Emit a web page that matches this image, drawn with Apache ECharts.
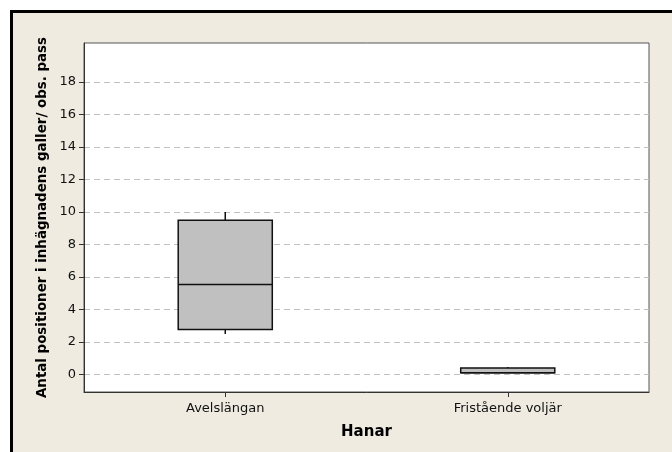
<!DOCTYPE html>
<html>
<head>
<meta charset="utf-8">
<script src="https://cdn.jsdelivr.net/npm/echarts@6/dist/echarts.min.js"></script>
<style>
  body { margin: 0; background: #ffffff; }
  #wrap { position: relative; width: 672px; height: 452px; overflow: hidden; }
  #frame { position: absolute; left: 10px; top: 10px; width: 700px; height: 500px;
           background: #efebe1; border-top: 3px solid #000; border-left: 3px solid #000; }
  #chart { position: absolute; left: 0; top: 0; width: 672px; height: 452px; }
</style>
</head>
<body>
<div id="wrap">
  <div id="frame"></div>
  <div id="chart"></div>
</div>
<script>
// Kategorier och lådvärden: [min, Q1, median, Q3, max]
const categories = ["Avelslängan", "Fristående voljär"];
const boxAvelslangan = [2.5, 2.77, 5.55, 9.5, 10.0];
const boxFristaende = [0.1, 0.12, 0.12, 0.41, 0.47];
const yTickValues = [0, 2, 4, 6, 8, 10, 12, 14, 16, 18];

const boxData = [
    [0].concat(boxAvelslangan),
    [1].concat(boxFristaende)
];

const chart = echarts.init(document.getElementById("chart"));

function renderBox(params, api) {
    const x = api.value(0);
    const lo = api.coord([x, api.value(1)]);
    const q1 = api.coord([x, api.value(2)]);
    const med = api.coord([x, api.value(3)]);
    const q3 = api.coord([x, api.value(4)]);
    const hi = api.coord([x, api.value(5)]);
    const bw = api.size([1, 0])[0] * 0.333;
    const cx = q1[0];
    const left = cx - bw / 2;
    const line = { stroke: "#111", lineWidth: 1.5 };
    return {
        type: "group",
        children: [
            { type: "line", shape: { x1: cx, y1: q3[1], x2: cx, y2: hi[1] }, style: line },
            { type: "line", shape: { x1: cx, y1: q1[1], x2: cx, y2: lo[1] }, style: line },
            { type: "rect", shape: { x: left, y: q3[1], width: bw, height: q1[1] - q3[1] },
              style: { fill: "#c0c0c0", stroke: "#111", lineWidth: 1.5 } },
            { type: "line", shape: { x1: left, y1: med[1], x2: left + bw, y2: med[1] }, style: line }
        ]
    };
}

const option = {
    animation: false,
    textStyle: { fontFamily: "DejaVu Sans" },
    grid: {
        left: 84, right: 23, top: 43, bottom: 60,
        show: true, backgroundColor: "#ffffff",
        borderColor: "#555", borderWidth: 1
    },
    xAxis: {
        type: "category",
        data: categories,
        name: "Hanar",
        nameLocation: "middle",
        nameGap: 33,
        nameTextStyle: { fontSize: 15, fontWeight: "bold", color: "#000" },
        axisLine: { show: true, onZero: false, lineStyle: { color: "#333" } },
        axisTick: { show: true, alignWithLabel: true, length: 5, lineStyle: { color: "#333" } },
        axisLabel: { fontSize: 13, color: "#111", margin: 10 },
        splitLine: { show: false }
    },
    yAxis: {
        type: "value",
        min: -1.07,
        max: 20.4,
        name: "Antal positioner i inhägnadens galler/ obs. pass",
        nameLocation: "middle",
        nameGap: 35,
        nameTextStyle: { fontSize: 13.4, fontWeight: "bold", color: "#000" },
        axisLine: { show: true, lineStyle: { color: "#333" } },
        axisTick: { show: true, length: 5, customValues: yTickValues, lineStyle: { color: "#333" } },
        axisLabel: { fontSize: 13, color: "#111", margin: 8, customValues: yTickValues },
        splitLine: { show: true, lineStyle: { color: "#c0c0c0", type: [6, 4], width: 1 } }
    },
    series: [{
        type: "custom",
        renderItem: renderBox,
        encode: { x: 0, y: [1, 2, 3, 4, 5] },
        data: boxData
    }]
};

chart.setOption(option);
</script>
</body>
</html>
